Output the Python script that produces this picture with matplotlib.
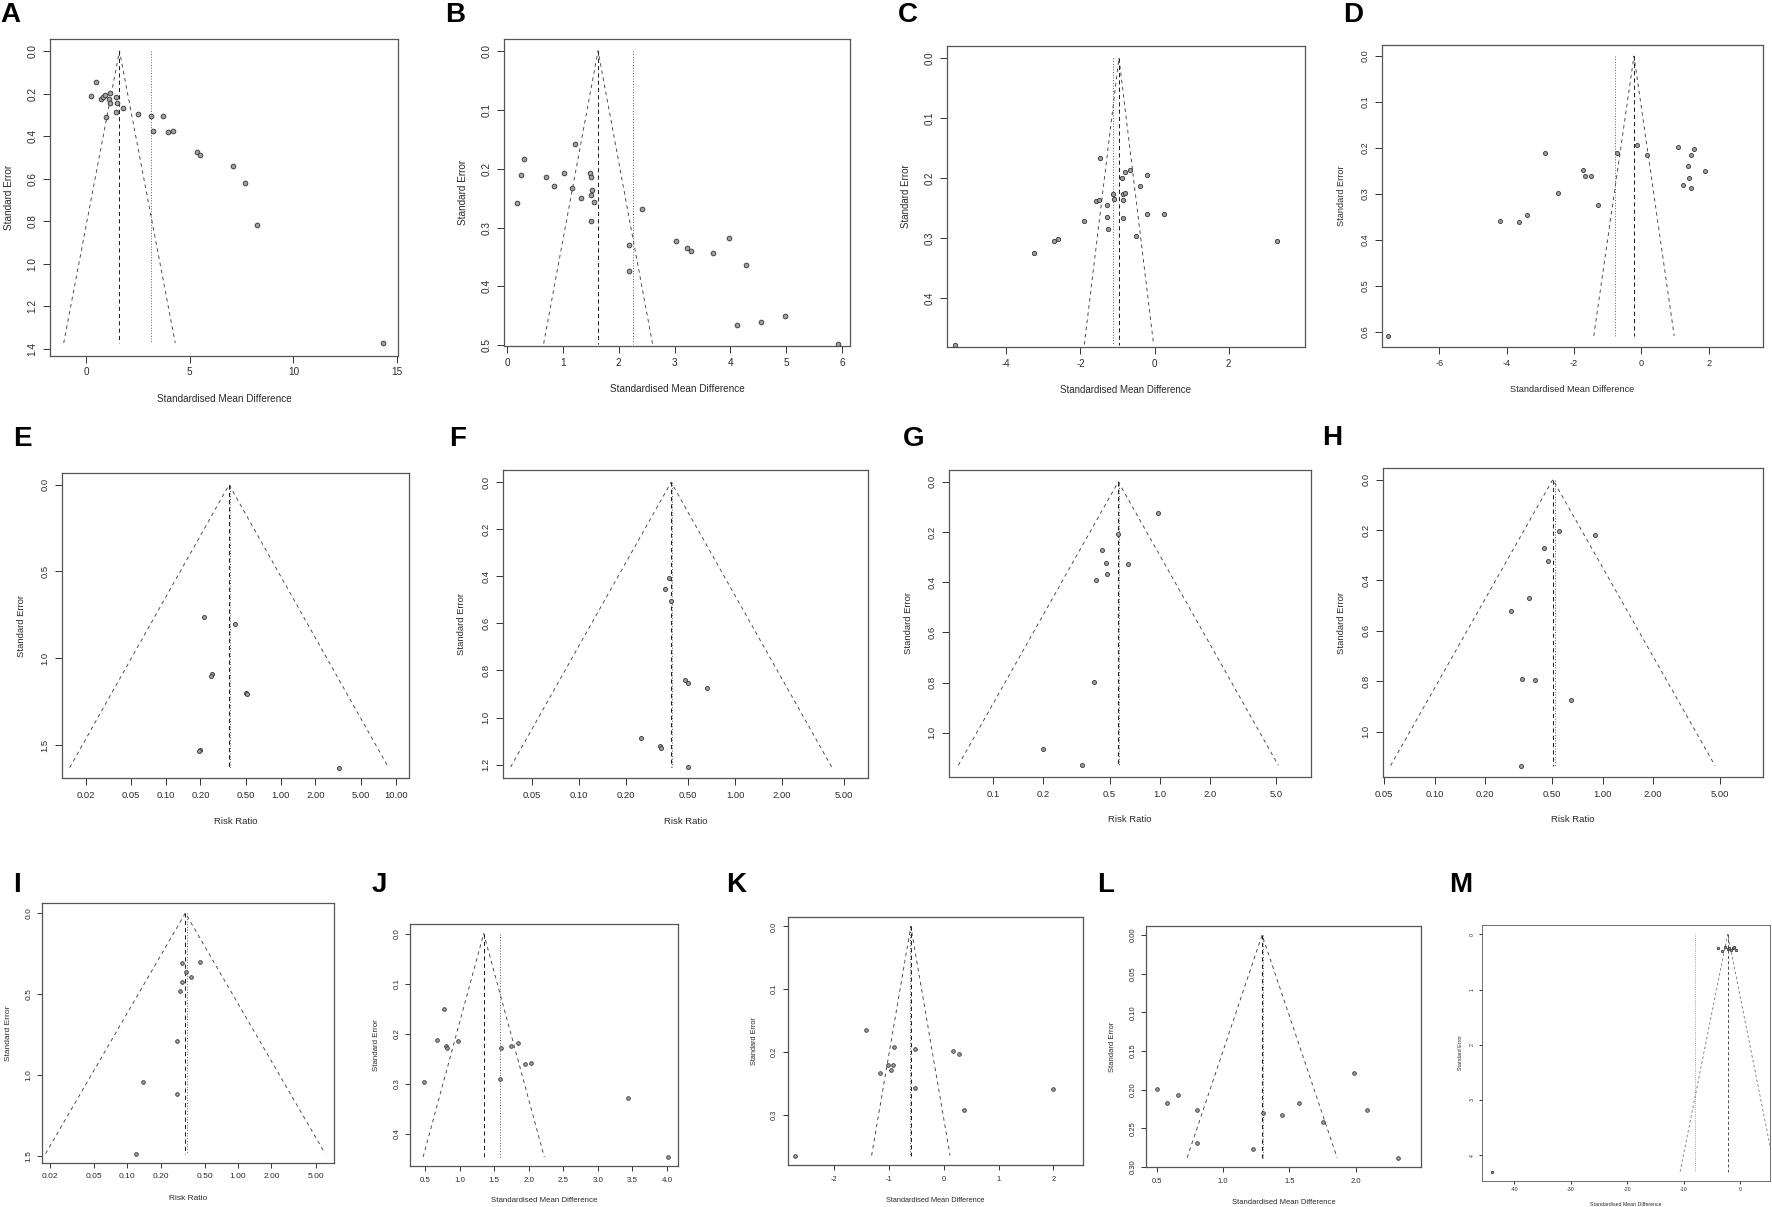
import matplotlib
matplotlib.use('Agg')
import matplotlib.pyplot as plt
import numpy as np

plt.rcParams['font.family'] = ['Liberation Sans', 'DejaVu Sans']

W, H = 1772, 1207
fig = plt.figure(figsize=(W / 100, H / 100), dpi=100)

# ---------------- data ----------------
a_smd = [0.22, 0.48, 0.70, 0.83, 0.93, 1.12, 1.15, 1.15, 1.45, 1.51, 0.96, 1.46, 1.80, 2.51, 3.12,
         3.73, 3.25, 3.94, 4.21, 5.37, 5.51, 7.07, 7.68, 8.26, 14.34]
a_se = [0.21, 0.147, 0.224, 0.216, 0.205, 0.227, 0.196, 0.245, 0.216, 0.245, 0.31, 0.289, 0.27, 0.296,
        0.308, 0.308, 0.374, 0.379, 0.376, 0.477, 0.491, 0.54, 0.621, 0.82, 1.372]
a_pooled = [1.61, 3.13]

b_smd = [0.185, 0.257, 0.31, 0.70, 0.84, 1.02, 1.16, 1.22, 1.33, 1.49, 1.50, 1.52, 1.50, 1.56, 1.50,
         2.18, 2.19, 2.42, 3.03, 3.22, 3.29, 3.69, 3.98, 4.27, 4.11, 4.55, 4.98, 5.92]
b_se = [0.258, 0.211, 0.183, 0.214, 0.23, 0.207, 0.233, 0.159, 0.25, 0.207, 0.215, 0.237, 0.245, 0.257,
        0.289, 0.329, 0.374, 0.268, 0.323, 0.335, 0.34, 0.343, 0.318, 0.363, 0.466, 0.46, 0.45, 0.497]
b_pooled = [1.63, 2.26]

c_smd = [-5.39, -3.24, -2.70, -2.61, -1.90, -1.46, -1.59, -1.50, -1.28, -1.29, -1.26, -1.11, -1.10,
         -0.88, -0.81, -0.85, -0.80, -0.86, -0.86, -0.65, -0.38, -0.19, -0.20, -0.51, 0.25, 3.30]
c_se = [0.477, 0.324, 0.304, 0.302, 0.272, 0.166, 0.238, 0.236, 0.244, 0.265, 0.285, 0.226, 0.235,
        0.20, 0.19, 0.226, 0.225, 0.237, 0.266, 0.187, 0.213, 0.194, 0.259, 0.297, 0.259, 0.305]
c_pooled = [-0.96, -1.11]

d_smd = [-7.51, -4.20, -3.63, -3.40, -2.87, -2.49, -1.73, -1.67, -1.50, -1.30, -0.73, -0.14, 0.16,
         1.10, 1.23, 1.37, 1.47, 1.57, 1.40, 1.47, 1.90]
d_se = [0.609, 0.359, 0.362, 0.346, 0.211, 0.297, 0.247, 0.262, 0.26, 0.323, 0.21, 0.193, 0.215,
        0.198, 0.28, 0.24, 0.215, 0.203, 0.265, 0.288, 0.25]
d_pooled = [-0.22, -0.78]

e_rr = [0.214, 0.40, 0.251, 0.245, 0.50, 0.505, 0.20, 0.195, 3.2]
e_se = [0.765, 0.804, 1.092, 1.10, 1.202, 1.205, 1.53, 1.535, 1.63]
e_pooled = [0.355, 0.36]

f_rr = [0.357, 0.376, 0.387, 0.476, 0.497, 0.665, 0.25, 0.33, 0.335, 0.50]
f_se = [0.452, 0.409, 0.503, 0.841, 0.855, 0.875, 1.089, 1.12, 1.13, 1.21]
f_pooled = [0.389, 0.392]

g_rr = [0.97, 0.561, 0.448, 0.475, 0.648, 0.482, 0.412, 0.403, 0.20, 0.34]
g_se = [0.124, 0.209, 0.271, 0.323, 0.329, 0.367, 0.392, 0.797, 1.066, 1.129]
g_pooled = [0.564, 0.57]

h_rr = [0.447, 0.472, 0.365, 0.284, 0.333, 0.398, 0.553, 0.895, 0.646, 0.327]
h_se = [0.270, 0.322, 0.471, 0.522, 0.79, 0.795, 0.205, 0.218, 0.876, 1.135]
h_pooled = [0.505, 0.52]

i_rr = [0.311, 0.45, 0.336, 0.376, 0.314, 0.301, 0.283, 0.139, 0.281, 0.12]
i_se = [0.305, 0.302, 0.364, 0.395, 0.422, 0.479, 0.786, 1.044, 1.114, 1.483]
i_pooled = [0.334, 0.345]

j_smd = [0.78, 0.675, 0.805, 0.82, 0.975, 1.605, 1.746, 1.84, 1.94, 2.04, 0.485, 1.58, 3.43, 4.02]
j_se = [0.151, 0.212, 0.224, 0.228, 0.215, 0.228, 0.225, 0.218, 0.261, 0.258, 0.296, 0.291, 0.328, 0.447]
j_pooled = [1.35, 1.59]

k_smd = [-1.42, -0.90, -0.52, -1.01, -0.92, -0.96, -1.17, 0.17, 0.28, -0.52, 0.37, 2.0, -2.72]
k_se = [0.165, 0.192, 0.195, 0.221, 0.22, 0.229, 0.234, 0.198, 0.204, 0.257, 0.293, 0.259, 0.365]
k_pooled = [-0.60, -0.61]

l_smd = [0.5, 0.578, 0.663, 0.807, 0.807, 1.225, 1.30, 1.446, 1.574, 1.752, 1.982, 2.085, 2.315]
l_se = [0.199, 0.217, 0.207, 0.226, 0.269, 0.277, 0.23, 0.233, 0.217, 0.242, 0.178, 0.226, 0.288]
l_pooled = [1.294, 1.30]

m_smd = [-44.0, -3.9, -3.2, -2.6, -2.2, -1.9, -1.6, -1.3, -1.0, -0.7]
m_se = [4.3, 0.25, 0.3, 0.22, 0.27, 0.24, 0.29, 0.25, 0.23, 0.28]
m_pooled = [-2.2, -8.0]

# tick labels
smd_ticks_a = [0, 5, 10, 15]
smd_ticks_b = [0, 1, 2, 3, 4, 5, 6]
smd_ticks_c = [-4, -2, 0, 2]
smd_ticks_d = [-6, -4, -2, 0, 2]
rr_ticks_e = ['0.02', '0.05', '0.10', '0.20', '0.50', '1.00', '2.00', '5.00', '10.00']
rr_ticks_f = ['0.05', '0.10', '0.20', '0.50', '1.00', '2.00', '5.00']
rr_ticks_g = ['0.1', '0.2', '0.5', '1.0', '2.0', '5.0']
rr_ticks_h = ['0.05', '0.10', '0.20', '0.50', '1.00', '2.00', '5.00']
rr_ticks_i = ['0.02', '0.05', '0.10', '0.20', '0.50', '1.00', '2.00', '5.00']
smd_ticks_j = ['0.5', '1.0', '1.5', '2.0', '2.5', '3.0', '3.5', '4.0']
smd_ticks_k = [-2, -1, 0, 1, 2]
smd_ticks_l = ['0.5', '1.0', '1.5', '2.0']
smd_ticks_m = [-40, -30, -20, -10, 0]

se_ticks_a = ['0.0', '0.2', '0.4', '0.6', '0.8', '1.0', '1.2', '1.4']
se_ticks_b = ['0.0', '0.1', '0.2', '0.3', '0.4', '0.5']
se_ticks_c = ['0.0', '0.1', '0.2', '0.3', '0.4']
se_ticks_d = ['0.0', '0.1', '0.2', '0.3', '0.4', '0.5', '0.6']
se_ticks_e = ['0.0', '0.5', '1.0', '1.5']
se_ticks_f = ['0.0', '0.2', '0.4', '0.6', '0.8', '1.0', '1.2']
se_ticks_g = ['0.0', '0.2', '0.4', '0.6', '0.8', '1.0']
se_ticks_h = ['0.0', '0.2', '0.4', '0.6', '0.8', '1.0']
se_ticks_i = ['0.0', '0.5', '1.0', '1.5']
se_ticks_j = ['0.0', '0.1', '0.2', '0.3', '0.4']
se_ticks_k = ['0.0', '0.1', '0.2', '0.3']
se_ticks_l = ['0.00', '0.05', '0.10', '0.15', '0.20', '0.25', '0.30']
se_ticks_m = ['0', '1', '2', '3', '4']

SMD = 'Standardised Mean Difference'
RR = 'Risk Ratio'

# ---------------- layout (pixels) ----------------
panels = [
    dict(tag='A', x=a_smd, y=a_se, pooled=a_pooled, log=False, xt=smd_ticks_a, yt=se_ticks_a, xl=SMD,
         box=(50, 39, 398, 356), xlim=(-1.74, 15.04), ylim=(1.433, -0.056), fs=7.2, row=1, letter=(0, 15), ms=3.4),
    dict(tag='B', x=b_smd, y=b_se, pooled=b_pooled, log=False, xt=smd_ticks_b, yt=se_ticks_b, xl=SMD,
         box=(504, 39, 850, 346), xlim=(-0.054, 6.14), ylim=(0.501, -0.02), fs=7.2, row=1, letter=(445, 15), ms=3.4),
    dict(tag='C', x=c_smd, y=c_se, pooled=c_pooled, log=False, xt=smd_ticks_c, yt=se_ticks_c, xl=SMD,
         box=(947, 46, 1305, 347), xlim=(-5.6, 4.06), ylim=(0.481, -0.02), fs=7.0, row=1, letter=(898, 15), ms=3.1),
    dict(tag='D', x=d_smd, y=d_se, pooled=d_pooled, log=False, xt=smd_ticks_d, yt=se_ticks_d, xl=SMD,
         box=(1382, 45, 1763, 347), xlim=(-7.7, 3.61), ylim=(0.633, -0.024), fs=6.6, row=1, letter=(1343, 15), ms=2.9),
    dict(tag='E', x=e_rr, y=e_se, pooled=e_pooled, log=True, xt=rr_ticks_e, yt=se_ticks_e, xl=RR,
         box=(62, 473, 409, 778), xlim=(0.01247, 13.06), ylim=(1.69, -0.0675), fs=6.8, row=2, letter=(13, 439), ms=2.9),
    dict(tag='F', x=f_rr, y=f_se, pooled=f_pooled, log=True, xt=rr_ticks_f, yt=se_ticks_f, xl=RR,
         box=(503, 470, 868, 778), xlim=(0.03243, 7.129), ylim=(1.257, -0.052), fs=6.8, row=2, letter=(449, 439), ms=2.9),
    dict(tag='G', x=g_rr, y=g_se, pooled=g_pooled, log=True, xt=rr_ticks_g, yt=se_ticks_g, xl=RR,
         box=(949, 470, 1311, 777), xlim=(0.0542, 8.11), ylim=(1.176, -0.047), fs=6.8, row=2, letter=(903, 439), ms=2.9),
    dict(tag='H', x=h_rr, y=h_se, pooled=h_pooled, log=True, xt=rr_ticks_h, yt=se_ticks_h, xl=RR,
         box=(1383, 468, 1763, 777), xlim=(0.0492, 9.02), ylim=(1.18, -0.046), fs=6.8, row=2, letter=(1322, 438), ms=2.9),
    dict(tag='I', x=i_rr, y=i_se, pooled=i_pooled, log=True, xt=rr_ticks_i, yt=se_ticks_i, xl=RR,
         box=(42, 903, 334, 1163), xlim=(0.01694, 7.345), ylim=(1.541, -0.062), fs=6.0, row=3, letter=(13, 885), ms=2.6),
    dict(tag='J', x=j_smd, y=j_se, pooled=j_pooled, log=False, xt=smd_ticks_j, yt=se_ticks_j, xl=SMD,
         box=(410, 924, 678, 1166), xlim=(0.284, 4.16), ylim=(0.465, -0.019), fs=5.7, row=3, letter=(372, 885), ms=2.6),
    dict(tag='K', x=k_smd, y=k_se, pooled=k_pooled, log=False, xt=smd_ticks_k, yt=se_ticks_k, xl=SMD,
         box=(788, 917, 1083, 1165), xlim=(-2.84, 2.54), ylim=(0.38, -0.015), fs=5.3, row=3, letter=(726, 885), ms=2.6),
    dict(tag='L', x=l_smd, y=l_se, pooled=l_pooled, log=False, xt=smd_ticks_l, yt=se_ticks_l, xl=SMD,
         box=(1146, 926, 1421, 1167), xlim=(0.42, 2.49), ylim=(0.30, -0.0116), fs=5.5, row=3, letter=(1097, 885), ms=2.6),
    dict(tag='M', x=m_smd, y=m_se, pooled=m_pooled, log=False, xt=smd_ticks_m, yt=se_ticks_m, xl=SMD,
         box=(1482, 925, 1770, 1181), xlim=(-45.7, 5.3), ylim=(4.47, -0.17), fs=3.8, row=4, letter=(1449, 885), ms=1.7),
]

# offsets per row: (ytick centre, ylabel centre, xtick centre, xlabel centre, tick length px)
offsets = {1: (18, 41, 17, 43, 7), 2: (18, 41, 18, 43, 7), 3: (14, 33, 15, 35, 5), 4: (10, 21, 9, 24, 3)}

BOXC = '#555555'
TXTC = '#2a2a2a'

for p in panels:
    l, t, r, b = p['box']
    ax = fig.add_axes([l / W, 1 - b / H, (r - l) / W, (b - t) / H])
    yt_off, yl_off, xt_off, xl_off, tl = offsets[p['row']]
    fs = p['fs']
    fs_px = fs / 0.72
    x = np.array(p['x'], dtype=float)
    y = np.array(p['y'], dtype=float)
    fixed, random = p['pooled']
    semax = y.max()
    lw = 0.65 if p['row'] < 4 else 0.45
    if p['log']:
        ax.set_xscale('log')
        lo, hi = fixed * np.exp(-1.96 * semax), fixed * np.exp(1.96 * semax)
    else:
        lo, hi = fixed - 1.96 * semax, fixed + 1.96 * semax
    ax.plot([lo, fixed, hi], [semax, 0, semax], color='#444444', lw=lw, ls=(0, (4, 4)))
    ax.plot([fixed, fixed], [0, semax], color='#222222', lw=lw + 0.1, ls=(0, (4, 3)))
    ax.plot([random, random], [0, semax], color='#444444', lw=lw, ls=(0, (1, 2)))
    ax.plot(x, y, 'o', ms=p['ms'], mfc='#a0a0a0', mec='#333333', mew=0.6, ls='none', zorder=5)
    ax.set_xlim(*p['xlim'])
    ax.set_ylim(*p['ylim'])
    xt = [float(v) for v in p['xt']]
    ax.set_xticks(xt)
    ax.set_xticklabels([str(v) for v in p['xt']])
    ax.minorticks_off()
    yt = [float(v) for v in p['yt']]
    ax.set_yticks(yt)
    ax.set_yticklabels([str(v) for v in p['yt']], rotation=90, va='center')
    pad_x = max(xt_off - tl - 0.55 * fs_px, 0.5) * 0.72
    pad_y = max(yt_off - tl - 0.57 * fs_px, 0.5) * 0.72
    ax.tick_params(axis='x', direction='out', length=tl * 0.72, width=0.7, color='#333333',
                   labelsize=fs, labelcolor=TXTC, pad=pad_x)
    ax.tick_params(axis='y', direction='out', length=tl * 0.72, width=0.7, color='#333333',
                   labelsize=fs, labelcolor=TXTC, pad=pad_y)
    for s in ax.spines.values():
        s.set_color(BOXC)
        s.set_linewidth(0.9 if p['row'] < 4 else 0.6)
    # axis titles
    fig.text((l + r) / 2 / W, 1 - (b + xl_off) / H, p['xl'], ha='center', va='center',
             fontsize=fs, color=TXTC)
    fig.text((l - yl_off) / W, 1 - (t + b) / 2 / H, 'Standard Error', ha='center', va='center',
             rotation=90, fontsize=fs, color=TXTC)
    lx, ly = p['letter']
    fig.text(lx / W, 1 - ly / H, p['tag'], ha='left', va='center', fontsize=20,
             fontweight='bold', color='black')

fig.savefig('out.png', dpi=100, facecolor='white')
